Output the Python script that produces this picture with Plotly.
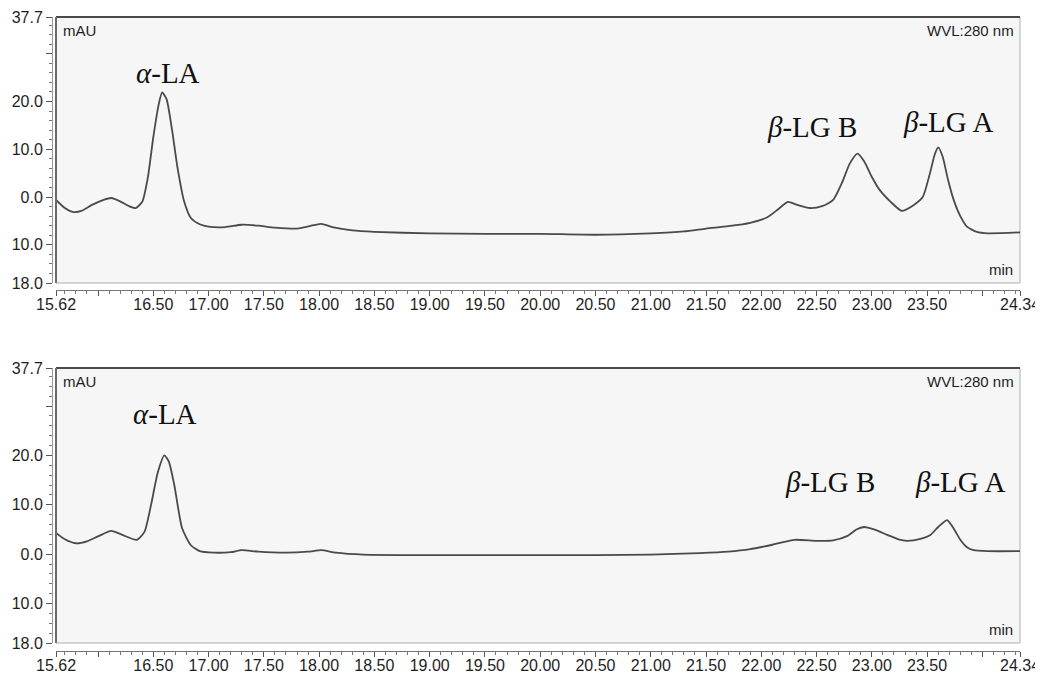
import plotly.graph_objects as go

# ---- data ----
time_top = [15.62, 15.70, 15.77, 15.85, 15.95, 16.05, 16.12, 16.20, 16.28, 16.34, 16.40, 16.45,
            16.50, 16.55, 16.58, 16.62, 16.67, 16.72, 16.78, 16.84, 16.92, 17.00, 17.15, 17.30,
            17.45, 17.60, 17.80, 17.95, 18.02, 18.12, 18.30, 18.50, 19.00, 19.50, 20.00, 20.50,
            21.00, 21.30, 21.50, 21.70, 21.90, 22.05, 22.15, 22.24, 22.32, 22.44, 22.55, 22.65,
            22.73, 22.80, 22.87, 22.93, 23.00, 23.07, 23.17, 23.27, 23.37, 23.46, 23.52, 23.57,
            23.60, 23.64, 23.69, 23.74, 23.80, 23.86, 23.95, 24.05, 24.34]
mau_top = [-0.6, -2.3, -3.1, -2.9, -1.6, -0.6, -0.2, -0.9, -1.9, -2.3, -1.0, 4.0,
           12.5, 19.5, 21.9, 20.5, 14.0, 6.0, -1.0, -4.4, -5.7, -6.2, -6.3, -5.8,
           -6.0, -6.4, -6.6, -5.9, -5.6, -6.3, -7.0, -7.3, -7.6, -7.7, -7.7, -7.9,
           -7.6, -7.2, -6.6, -6.1, -5.4, -4.3, -2.6, -1.0, -1.6, -2.3, -1.9, -0.6,
           3.0, 7.0, 9.1, 7.5, 4.2, 1.5, -1.0, -2.9, -1.8, 0.0, 4.5, 9.0,
           10.4, 8.5, 3.5, -0.6, -4.0, -6.2, -7.3, -7.6, -7.4]

time_bot = [15.62, 15.70, 15.80, 15.90, 16.00, 16.12, 16.22, 16.35, 16.42, 16.48, 16.54, 16.60,
            16.64, 16.69, 16.76, 16.84, 16.92, 17.05, 17.20, 17.30, 17.45, 17.70, 17.90, 18.02,
            18.15, 18.40, 19.00, 19.50, 20.00, 20.50, 21.00, 21.44, 21.70, 21.90, 22.10, 22.30,
            22.50, 22.65, 22.78, 22.86, 22.93, 23.02, 23.14, 23.24, 23.32, 23.44, 23.53, 23.60,
            23.68, 23.74, 23.80, 23.86, 23.92, 24.05, 24.34]
mau_bot = [4.3, 3.0, 2.2, 2.6, 3.6, 4.7, 3.9, 2.9, 4.5, 10.0, 16.5, 20.0,
           18.8, 14.0, 5.3, 1.8, 0.6, 0.3, 0.4, 0.8, 0.5, 0.3, 0.5, 0.8,
           0.3, -0.1, -0.2, -0.2, -0.2, -0.2, -0.1, 0.2, 0.5, 1.0, 1.9, 2.9,
           2.7, 2.8, 3.7, 5.0, 5.5, 5.0, 3.9, 3.0, 2.7, 3.1, 3.9, 5.5,
           6.9, 5.2, 2.9, 1.4, 0.8, 0.6, 0.6]

x_tickvals = [15.62, 16.00, 16.50, 17.00, 17.50, 18.00, 18.50, 19.00, 19.50, 20.00, 20.50,
              21.00, 21.50, 22.00, 22.50, 23.00, 23.50, 24.00, 24.34]
x_ticktext = ["15.62", "", "16.50", "17.00", "17.50", "18.00", "18.50", "19.00", "19.50", "20.00",
              "20.50", "21.00", "21.50", "22.00", "22.50", "23.00", "23.50", "", "24.34"]
y_tickvals = [37.7, 30, 20, 10, 0, -10, -18]
y_ticktext = ["37.7", "", "20.0", "10.0", "0.0", "10.0", "18.0"]

peak_labels = ["<i>α</i>-LA", "<i>β</i>-LG B", "<i>β</i>-LG A"]
label_pos_top = [(16.63, 26.0), (22.46, 14.6), (23.69, 15.8)]
label_pos_bot = [(16.61, 28.4), (22.62, 14.7), (23.80, 14.7)]

# ---- layout geometry (page pixels; the page body adds an 8px margin) ----
OFF = 8
W, H = 1043 - OFF, 674 - OFF


def fx(px):
    return (px - OFF) / W


def fy(py):
    return 1 - (py - OFF) / H


x_dom = [fx(56), fx(1020)]
top_dom = [fy(283), fy(17)]
bot_dom = [fy(643), fy(368)]
yaxis_pos = fx(52)
xaxis_pos_top = fy(290)
xaxis_pos_bot = fy(651)

LINE = "#4a4a4a"
TICKFONT = dict(family="Liberation Sans, Arial", size=16, color="#1e1e1e")

fig = go.Figure()
fig.add_trace(go.Scatter(x=time_top, y=mau_top, mode="lines", line=dict(color=LINE, width=1.8, shape="spline", smoothing=0.6),
                         xaxis="x", yaxis="y", showlegend=False, hoverinfo="skip"))
fig.add_trace(go.Scatter(x=time_bot, y=mau_bot, mode="lines", line=dict(color=LINE, width=1.8, shape="spline", smoothing=0.6),
                         xaxis="x2", yaxis="y2", showlegend=False, hoverinfo="skip"))


def xaxis_cfg(pos):
    return dict(domain=x_dom, range=[15.62, 24.34], anchor="free", position=pos,
                tickmode="array", tickvals=x_tickvals, ticktext=x_ticktext,
                ticks="outside", ticklen=5, tickcolor="#555", tickwidth=1,
                ticklabelstandoff=-5,
                showline=True, linecolor="#777", linewidth=1, showgrid=False, zeroline=False,
                tickfont=TICKFONT, automargin=False,
                minor=dict(ticks="outside", dtick=0.1, tick0=15.6, ticklen=3, tickcolor="#777", showgrid=False))


def yaxis_cfg(dom, pos):
    return dict(domain=dom, range=[-18, 37.7], anchor="free", position=pos,
                tickmode="array", tickvals=y_tickvals, ticktext=y_ticktext,
                ticks="outside", ticklen=6, tickcolor="#555", tickwidth=1,
                showline=True, linecolor="#999", linewidth=1, showgrid=False, zeroline=False,
                tickfont=TICKFONT, automargin=False,
                minor=dict(ticks="outside", dtick=2, tick0=0, ticklen=3, tickcolor="#777", showgrid=False))


fig.update_layout(
    width=W, height=H,
    margin=dict(l=0, r=0, t=0, b=0, pad=0, autoexpand=False),
    paper_bgcolor="white",
    plot_bgcolor="#f6f6f6",
    xaxis=xaxis_cfg(xaxis_pos_top),
    yaxis=yaxis_cfg(top_dom, yaxis_pos),
    xaxis2=xaxis_cfg(xaxis_pos_bot),
    yaxis2=yaxis_cfg(bot_dom, yaxis_pos),
    showlegend=False,
)

shapes = []
annotations = []
for xa, ya, lpos in (("x", "y", label_pos_top), ("x2", "y2", label_pos_bot)):
    xd, yd = xa + " domain", ya + " domain"
    # frame
    shapes.append(dict(type="rect", xref=xd, yref=yd, x0=0, x1=1, y0=0, y1=1,
                       line=dict(color="#b0b0b0", width=1), layer="below"))
    shapes.append(dict(type="line", xref=xd, yref=yd, x0=0, x1=1, y0=1, y1=1,
                       line=dict(color="#4a4a4a", width=2)))
    shapes.append(dict(type="line", xref=xd, yref=yd, x0=0, x1=0, y0=0, y1=1,
                       line=dict(color="#6a6a6a", width=2)))
    small = dict(family="Liberation Sans, Arial", size=15, color="#1e1e1e")
    annotations.append(dict(xref=xd, yref=yd, x=0.005, y=0.99, xanchor="left", yanchor="top",
                            text="mAU", showarrow=False, font=small))
    annotations.append(dict(xref=xd, yref=yd, x=0.996, y=0.99, xanchor="right", yanchor="top",
                            text="WVL:280 nm", showarrow=False, font=small))
    annotations.append(dict(xref=xd, yref=yd, x=0.995, y=0.01, xanchor="right", yanchor="bottom",
                            text="min", showarrow=False, font=small))
    for txt, (tx, ty) in zip(peak_labels, lpos):
        annotations.append(dict(xref=xa, yref=ya, x=tx, y=ty, xanchor="center", yanchor="middle",
                                text=txt, showarrow=False,
                                font=dict(family="Liberation Serif, Times New Roman", size=29, color="#111")))

fig.update_layout(shapes=shapes, annotations=annotations)
fig.write_html("out.html")
